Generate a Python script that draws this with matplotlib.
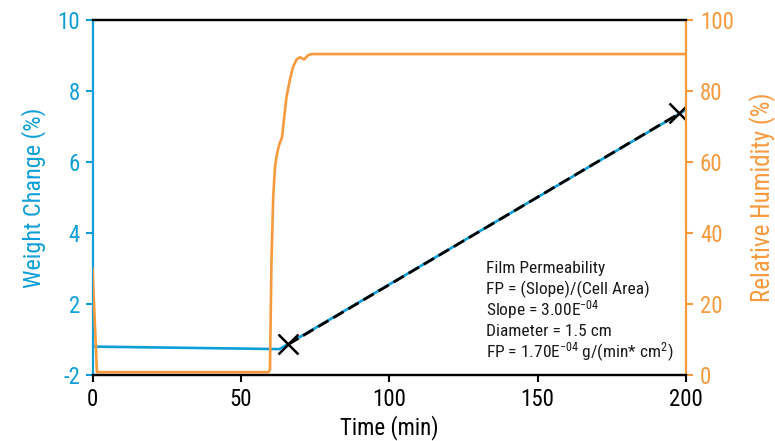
import matplotlib
matplotlib.use("Agg")
import matplotlib.pyplot as plt
from matplotlib import font_manager

# narrow Arial-like face if we have one
installed = {f.name for f in font_manager.fontManager.ttflist}
face = "Roboto Condensed" if "Roboto Condensed" in installed else "Liberation Sans"
plt.rcParams['font.family'] = [face, 'DejaVu Sans']
plt.rcParams['mathtext.fontset'] = 'custom'
plt.rcParams['mathtext.rm'] = face
plt.rcParams['mathtext.it'] = face
plt.rcParams['mathtext.bf'] = face

BLUE = '#0f9fd8'
ORANGE = '#f79a3e'

# weight change (blue)
time_wt = [0, 63, 200]
weight = [0.80, 0.73, 7.47]

# relative humidity (orange)
time_rh = [0, 1.5, 59.3, 59.8, 60.3, 60.9, 61.5, 62.2, 62.9, 63.9, 64.5, 65.4,
           66.5, 67.6, 68.8, 69.9, 71.3, 72.7, 73.8, 200]
rh = [30, 0.8, 0.8, 1.4, 31.5, 50.2, 58.7, 62.4, 64.8, 67.1, 71.8, 78.4,
      83.1, 86.8, 88.9, 89.5, 88.9, 90.1, 90.4, 90.4]

# linear fit segment
fit_t = [65.9, 197.8]
fit_w = [0.86, 7.37]

wt_ticks = [0, 2, 4, 6, 8, 10]
wt_labels = ['-2', '2', '4', '6', '8', '10']
rh_ticks = [0, 20, 40, 60, 80, 100]
time_ticks = [0, 50, 100, 150, 200]

note_lines = [
    'Film Permeability',
    'FP = (Slope)/(Cell Area)',
    r'Slope = 3.00E$\mathregular{^{-04}}$',
    'Diameter = 1.5 cm',
    r'FP = 1.70E$\mathregular{^{-04}}$ g/(min* cm$\mathregular{^{2}}$)',
]

W, H = 775, 441
fig = plt.figure(figsize=(W / 100, H / 100), dpi=100)
ax = fig.add_axes([92.5 / W, (H - 375) / H, (686 - 92.5) / W, (375 - 20) / H])
ax2 = ax.twinx()

ax.plot(time_wt, weight, color=BLUE, lw=1.9, zorder=2)
ax.plot(fit_t, fit_w, color='black', lw=2.0, dashes=(4.3, 2.0), zorder=3)
ax.plot(fit_t, fit_w, ls='none', marker='x', ms=15, mew=1.8, color='black', zorder=4)
ax2.plot(time_rh, rh, color=ORANGE, lw=1.9)

ax.set_xlim(0, 200)
ax.set_ylim(0, 10)
ax2.set_ylim(0, 100)

ax.set_xticks(time_ticks)
ax.set_yticks(wt_ticks)
ax.set_yticklabels(wt_labels)
ax2.set_yticks(rh_ticks)

fs = 16.5
ax.tick_params(axis='x', colors='black', labelsize=fs, length=5, width=1.5, pad=4)
ax.tick_params(axis='y', colors=BLUE, labelsize=fs, length=5, width=1.5, pad=4)
ax2.tick_params(axis='y', colors=ORANGE, labelsize=fs, length=5, width=1.5, pad=5)

for a in (ax, ax2):
    for s in a.spines.values():
        s.set_linewidth(1.6)
    a.spines['top'].set_color('black')
    a.spines['bottom'].set_color('black')
ax.spines['left'].set_color(BLUE)
ax2.spines['left'].set_visible(False)
ax.spines['right'].set_visible(False)
ax2.spines['right'].set_color(ORANGE)

ax.set_xlabel('Time (min)', fontsize=fs, labelpad=3)
ax.set_ylabel('Weight Change (%)', fontsize=fs + 1, color=BLUE, labelpad=8)
ax2.set_ylabel('Relative Humidity (%)', fontsize=fs + 1.5, color=ORANGE, labelpad=11)

for i, line in enumerate(note_lines):
    fig.text(486 / W, (H - 268 - 21 * i) / H, line, fontsize=12.5,
             ha='left', va='center', color='#1a1a1a')

fig.savefig('out.png', dpi=100)
